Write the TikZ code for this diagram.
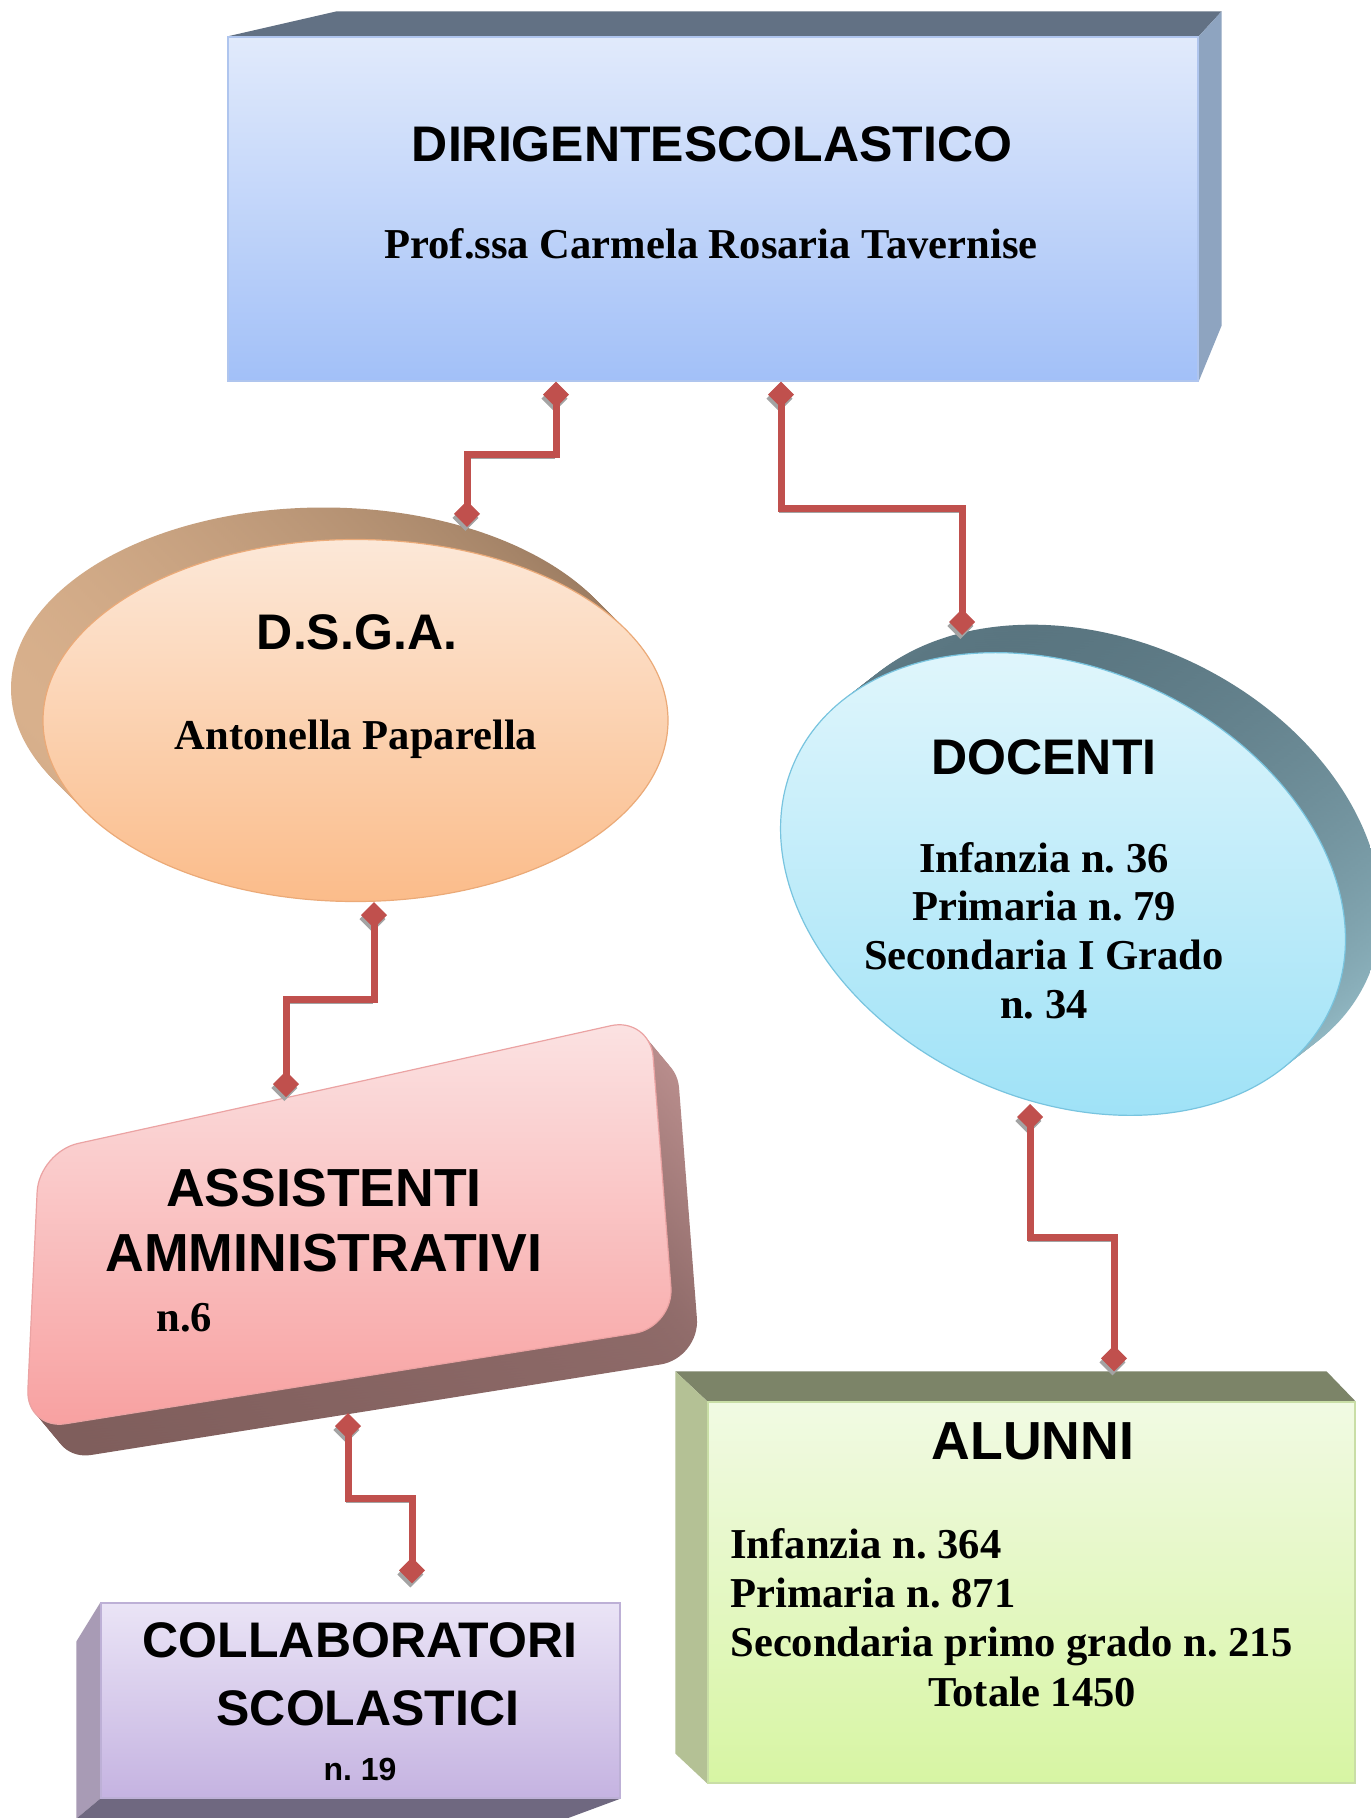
\documentclass[tikz,border=0pt]{standalone}
\usepackage{fontspec}
\setmainfont{Liberation Serif}
\newfontfamily\headfont{Liberation Sans}
\usetikzlibrary{shapes.geometric,arrows.meta,calc,backgrounds}
\frenchspacing

\definecolor{linkred}{HTML}{C0504D}
\definecolor{linkgray}{HTML}{A3A3A3}
\definecolor{dirtop}{HTML}{E1EAFB}
\definecolor{dirbot}{HTML}{A2C0F8}
\definecolor{dirline}{HTML}{AFC5EE}
\definecolor{dirlid}{HTML}{627184}
\definecolor{dirside}{HTML}{8EA4C0}
\definecolor{dsgatop}{HTML}{FCE8D8}
\definecolor{dsgabot}{HTML}{FBBC8A}
\definecolor{dsgaline}{HTML}{EBAA78}
\definecolor{dsgaleft}{HTML}{D8B08C}
\definecolor{dsgaright}{HTML}{97785E}
\definecolor{doctop}{HTML}{E4F7FC}
\definecolor{docbot}{HTML}{9FE2F7}
\definecolor{docline}{HTML}{78C4DF}
\definecolor{docdark}{HTML}{55707B}
\definecolor{doclight}{HTML}{9DC6D1}
\definecolor{asstop}{HTML}{FBE3E3}
\definecolor{assbot}{HTML}{F8A0A0}
\definecolor{assline}{HTML}{EBA3A3}
\definecolor{assdark}{HTML}{7E5D5B}
\definecolor{asslight}{HTML}{BC908F}
\definecolor{colltop}{HTML}{EAE4F6}
\definecolor{collbot}{HTML}{C5B3E1}
\definecolor{collline}{HTML}{BDB0D6}
\definecolor{collside}{HTML}{A89BB5}
\definecolor{collbase}{HTML}{6F6880}
\definecolor{alutop}{HTML}{F1FAE3}
\definecolor{alubot}{HTML}{D7F5A3}
\definecolor{aluline}{HTML}{C9DEA6}
\definecolor{alulid}{HTML}{7C8468}
\definecolor{aluside}{HTML}{B4C195}

\begin{document}
\begin{tikzpicture}[x=0.5pt,y=-0.5pt,
  head/.style={anchor=base,inner sep=0pt,font=\headfont\bfseries\fontsize{25}{30}\selectfont},
  bighead/.style={head,font=\headfont\bfseries\fontsize{26.8}{32}\selectfont},
  names/.style={anchor=base,inner sep=0pt,font=\bfseries\fontsize{21.3}{25}\selectfont},
  face/.style={inner sep=0pt,line width=0.6pt},
  link/.style={draw=linkred,line width=3.5pt,
    {Diamond[length=13pt,width=13pt,line width=0.5pt]}-{Diamond[length=13pt,width=13pt,line width=0.5pt]},
    preaction={draw=linkgray,transform canvas={shift={(-0.8pt,-2pt)}}},
    to path={|- ($(\tikztostart)!.5!(\tikztotarget)$) -| (\tikztotarget)}}]
  \useasboundingbox (0,0) rectangle (1370,1818);

  \node[face,minimum width=485pt,minimum height=172pt,draw=dirline,top color=dirtop,bottom color=dirbot] (dir) at (713,209) {};
  \node[face,ellipse,minimum width=312.5pt,minimum height=181pt,draw=dsgaline,top color=dsgatop,bottom color=dsgabot] (dsga) at (355.5,720.5) {};
  \node[face,ellipse,rotate=-25,minimum width=295pt,minimum height=215pt,draw=docline,top color=doctop,bottom color=docbot] (doc) at (1063,884) {};
  \node[face,minimum width=259.5pt,minimum height=97.5pt,draw=collline,top color=colltop,bottom color=collbot] (coll) at (360.5,1700.5) {};
  \node[face,minimum width=323.5pt,minimum height=190.5pt,draw=aluline,top color=alutop,bottom color=alubot] (alu) at (1031.5,1592.5) {};
  \draw[face,rounded corners=20pt,draw=assline,top color=asstop,bottom color=assbot]
    (344,1085) -- (650,1017) -- (674,1327) -- (26,1430) -- (39,1152) -- cycle;
  \coordinate (ass-top) at (286,1097);
  \coordinate (ass-bot) at (348,1413);

  \begin{scope}[on background layer]
    \fill[white] (0,0) rectangle (1370,1818);
    \fill[dirlid] (dir.north west) -- ([shift={(109,-25)}]dir.north west) -- ([shift={(23,-25)}]dir.north east) -- (dir.north east) -- cycle;
    \fill[dirside] (dir.north east) -- ([shift={(23,-25)}]dir.north east) -- ([shift={(23,-56)}]dir.south east) -- (dir.south east) -- cycle;
    \foreach \k in {16,15,...,1}
      \shade[left color=dsgaleft,right color=dsgaright] ([shift={(-2*\k,-2*\k)}]dsga.center) ellipse [x radius=312.5,y radius=181];
    \foreach \k in {12,11,...,1}
      \shade[top color=docdark,bottom color=doclight,shift={($(doc.center)+(3*\k,-2.33*\k)$)},rotate=-25] (0,0) ellipse [x radius=295,y radius=215];
    \foreach \k in {13,12,...,1}
      \shade[top color=asslight,bottom color=assdark,rounded corners=20pt,shift={(2*\k,2.4*\k)}]
        (344,1085) -- (650,1017) -- (674,1327) -- (26,1430) -- (39,1152) -- cycle;
    \fill[collside] (coll.north west) -- ([shift={(-24,39)}]coll.north west) -- ([shift={(-24,20)}]coll.south west) -- (coll.south west) -- cycle;
    \fill[collbase] (coll.south west) -- (coll.south east) -- ([shift={(-54,20)}]coll.south east) -- ([shift={(-24,20)}]coll.south west) -- cycle;
    \fill[alulid] (alu.north west) -- ([shift={(-32,-30)}]alu.north west) -- ([shift={(-29,-30)}]alu.north east) -- (alu.north east) -- cycle;
    \fill[aluside] (alu.north west) -- ([shift={(-32,-30)}]alu.north west) -- ([shift={(-32,-30)}]alu.south west) -- (alu.south west) -- cycle;
  \end{scope}

  \node[head] (dir-t) at (712,162) {DIRIGENTESCOLASTICO};
  \node[names] (dir-n) at (711,259) {Prof.ssa Carmela Rosaria Tavernise};
  \node[head] (dsga-t) at (357,649) {D.S.G.A.};
  \node[names] (dsga-n) at (356,749) {Antonella Paparella};
  \node[head] (doc-t) at (1044,774) {DOCENTI};
  \foreach \t [count=\i from 0] in {Infanzia n. 36,Primaria n. 79,Secondaria I Grado,n. 34}
    \node[names] (doc-\i) at (1044,{872+48.7*\i}) {\t};
  \node[bighead] (ass-t) at (324,1206) {ASSISTENTI};
  \node[bighead] (ass-u) at (324,1271) {AMMINISTRATIVI};
  \node[names,anchor=base west] (ass-n) at (156,1331) {n.6};
  \node[head] (coll-t) at (360,1657) {COLLABORATORI};
  \node[head] (coll-u) at (368,1725) {SCOLASTICI};
  \node[head,font=\headfont\bfseries\fontsize{16}{19}\selectfont] (coll-n) at (360,1780) {n. 19};
  \node[bighead] (alu-t) at (1033,1459) {ALUNNI};
  \foreach \t [count=\i from 0] in {Infanzia n. 364,Primaria n. 871,Secondaria primo grado n. 215}
    \node[names,anchor=base west] (alu-\i) at (730,{1558+49.3*\i}) {\t};
  \node[names] (alu-tot) at (1032,1706) {Totale 1450};

  \draw[link] ([shift={(-157,0)}]dir.south) to ([shift={(111.5,-12)}]dsga.north);
  \draw[link] ([shift={(68,0)}]dir.south) to ([shift={(-101,-249)}]doc.center);
  \draw[link] ([shift={(18.5,0)}]dsga.south) to (ass-top);
  \draw[link] (ass-bot) to ([shift={(51.5,-19)}]coll.north);
  \draw[link] ([shift={(-33,220)}]doc.center) to ([shift={(82.5,-30)}]alu.north);
\end{tikzpicture}
\end{document}
